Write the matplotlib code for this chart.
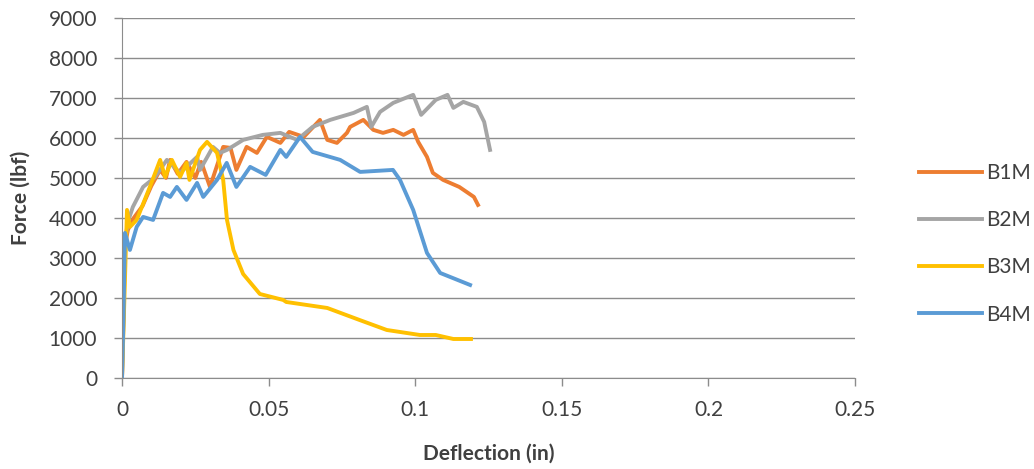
import matplotlib.pyplot as plt

plt.rcParams['font.family'] = ['Lato', 'DejaVu Sans']

# B1M
b1_x = [0, 0.0005, 0.001, 0.002, 0.004, 0.007, 0.010, 0.013, 0.015, 0.0164, 0.019, 0.022, 0.025,
        0.027, 0.030, 0.0345, 0.037, 0.039, 0.0425, 0.046, 0.0494, 0.054, 0.057, 0.062, 0.0675,
        0.070, 0.0733, 0.0767, 0.0778, 0.0823, 0.0857, 0.089, 0.0925, 0.096, 0.0993, 0.101,
        0.104, 0.106, 0.1095, 0.115, 0.120, 0.1214]
b1_y = [0, 1500, 3300, 3700, 4000, 4300, 4800, 5200, 5000, 5450, 5100, 5400, 5000,
        5400, 4775, 5775, 5750, 5200, 5775, 5625, 6025, 5875, 6150, 6025, 6450,
        5950, 5875, 6125, 6275, 6450, 6200, 6125, 6200, 6075, 6200, 5900,
        5525, 5125, 4950, 4775, 4525, 4325]

# B2M
b2_x = [0, 0.0005, 0.001, 0.002, 0.0037, 0.0072, 0.011, 0.0153, 0.0198, 0.0256, 0.0266, 0.031,
        0.0334, 0.0358, 0.0413, 0.048, 0.054, 0.0597, 0.065, 0.071, 0.079, 0.0835, 0.085,
        0.088, 0.0925, 0.0993, 0.102, 0.107, 0.111, 0.113, 0.1164, 0.121, 0.1235, 0.1255]
b2_y = [0, 1800, 3400, 3900, 4275, 4775, 5000, 5450, 5125, 5525, 5200, 5775,
        5625, 5700, 5950, 6075, 6125, 5950, 6275, 6450, 6625, 6775, 6275,
        6650, 6875, 7075, 6575, 6950, 7075, 6750, 6900, 6775, 6400, 5700]

# B3M
b3_x = [0, 0.0005, 0.0017, 0.0027, 0.005, 0.0095, 0.013, 0.0147, 0.017, 0.0198, 0.022, 0.023,
        0.0266, 0.029, 0.0324, 0.0345, 0.0358, 0.038, 0.0413, 0.047, 0.055, 0.056, 0.070,
        0.081, 0.0903, 0.1016, 0.107, 0.113, 0.119]
b3_y = [0, 1200, 4200, 3775, 3950, 4775, 5450, 5025, 5450, 5025, 5375, 4950,
        5700, 5900, 5625, 4950, 3950, 3200, 2600, 2100, 1950, 1900, 1750,
        1450, 1200, 1075, 1075, 975, 975]

# B4M
b4_x = [0, 0.0005, 0.001, 0.0027, 0.005, 0.0072, 0.0106, 0.014, 0.0164, 0.0187, 0.022, 0.0256,
        0.0277, 0.0324, 0.0357, 0.039, 0.0437, 0.049, 0.054, 0.056, 0.0607, 0.065, 0.0744,
        0.0812, 0.0924, 0.0948, 0.0993, 0.104, 0.1085, 0.1187]
b4_y = [0, 1500, 3625, 3200, 3775, 4025, 3950, 4625, 4525, 4775, 4450, 4875,
        4525, 4950, 5375, 4775, 5275, 5075, 5700, 5525, 6025, 5650, 5450,
        5150, 5200, 4950, 4200, 3125, 2625, 2325]

series = [("B1M", b1_x, b1_y, "#ED7D31"),
          ("B2M", b2_x, b2_y, "#A5A5A5"),
          ("B3M", b3_x, b3_y, "#FFC000"),
          ("B4M", b4_x, b4_y, "#5B9BD5")]

fig = plt.figure(figsize=(10.34, 4.69), dpi=100)
ax = fig.add_axes([0.118, 0.194, 0.709, 0.768])

for name, xs, ys, col in series:
    ax.plot(xs, ys, color=col, linewidth=2.8, label=name, solid_joinstyle='round')

ax.set_xlim(0, 0.25)
ax.set_ylim(0, 9000)
ax.set_xticks([0, 0.05, 0.1, 0.15, 0.2, 0.25])
ax.set_xticklabels(["0", "0.05", "0.1", "0.15", "0.2", "0.25"])
ax.set_yticks(range(0, 9001, 1000))
ax.grid(axis='y', color='#8c8c8c', linewidth=1)
ax.set_axisbelow(True)
for s in ['top', 'right']:
    ax.spines[s].set_visible(False)
for s in ['left', 'bottom']:
    ax.spines[s].set_color('#8c8c8c')
ax.tick_params(colors='#8c8c8c', labelcolor='#404040', labelsize=15, length=6, width=1)
ax.tick_params(axis='x', pad=10)
ax.tick_params(axis='y', pad=12)

ax.set_xlabel("Deflection (in)", fontsize=15, fontweight='bold', color='#404040', labelpad=17)
ax.set_ylabel("Force (lbf)", fontsize=15, fontweight='bold', color='#404040', labelpad=13)

ax.legend(loc='center left', bbox_to_anchor=(0.871, 0.48), bbox_transform=fig.transFigure,
          frameon=False, fontsize=15, handlelength=3.0, labelspacing=1.3, handletextpad=0.2,
          labelcolor='#404040')

fig.savefig("out.png", dpi=100)
